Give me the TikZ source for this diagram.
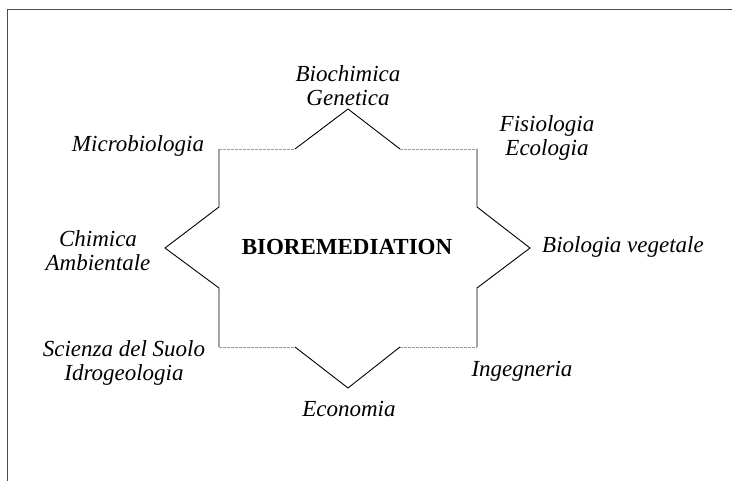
\documentclass[tikz,border=0pt]{standalone}
\usepackage{fontspec}
\setmainfont{Liberation Serif}
\begin{document}
\begin{tikzpicture}[x=1pt,y=-1pt,
  lbl/.style={font=\fontsize{23}{24}\selectfont\itshape, align=center, inner sep=0pt},
  title/.style={font=\fontsize{23}{24}\selectfont\bfseries, inner sep=0pt},
  solidline/.style={draw=black, line width=0.9pt},
  faint/.style={draw=black!40, line width=0.6pt, dash pattern=on 3pt off 1pt},
  framel/.style={draw=black!70, line width=1pt}]
\useasboundingbox (0,0) rectangle (732,481);
% frame
\draw[framel] (7,481) -- (7,10) -- (732,10);
% star-like shape
\coordinate (tl) at (219,149);
\coordinate (tr) at (477,149);
\coordinate (bl) at (219,347);
\coordinate (br) at (477,347);
\coordinate (ta) at (295,149);
\coordinate (tp) at (348,109);
\coordinate (tb) at (400,149);
\coordinate (ba) at (295,347);
\coordinate (bp) at (348,388);
\coordinate (bb) at (400,347);
\coordinate (la) at (219,207);
\coordinate (lp) at (165,248);
\coordinate (lb) at (219,288);
\coordinate (ra) at (477,207);
\coordinate (rp) at (530,248);
\coordinate (rb) at (477,288);
\draw[solidline] (ta) -- (tp) -- (tb);
\draw[solidline] (ba) -- (bp) -- (bb);
\draw[solidline] (tl) -- (la) -- (lp) -- (lb) -- (bl);
\draw[solidline] (tr) -- (ra) -- (rp) -- (rb) -- (br);
\draw[faint] (tl) -- (ta);
\draw[faint] (tb) -- (tr);
\draw[faint] (bl) -- (ba);
\draw[faint] (bb) -- (br);
% labels
\node[title] (bio) at (347,247) {BIOREMEDIATION};
\node[lbl] (biochim) at (348,86) {Biochimica\\Genetica};
\node[lbl] (micro) at (138,146) {Microbiologia};
\node[lbl] (fisio) at (547,138) {Fisiologia\\Ecologia};
\node[lbl] (chim) at (98,251) {Chimica\\Ambientale};
\node[lbl] (biove) at (623,247) {Biologia vegetale};
\node[lbl] (suolo) at (124,363) {Scienza del Suolo\\Idrogeologia};
\node[lbl] (ingeg) at (522,371) {Ingegneria};
\node[lbl] (econ) at (349,409) {Economia};
\end{tikzpicture}
\end{document}
